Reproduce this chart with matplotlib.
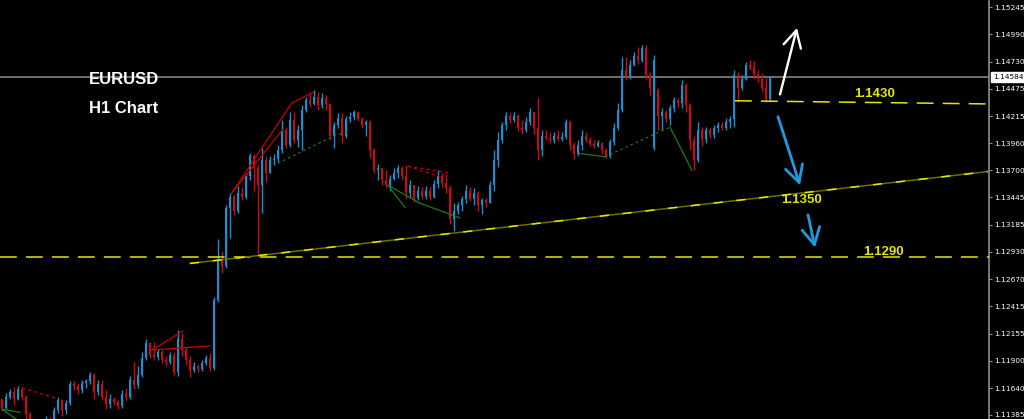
import matplotlib
matplotlib.use("Agg")
import matplotlib.pyplot as plt
import matplotlib.transforms as mtransforms

# EURUSD H1 candles (oldest -> newest)
opens = [
    1.1154,
    1.1145, 1.1156, 1.1160, 1.1154, 1.1163, 1.1156, 1.1139, 1.1129, 1.1126, 1.1132,
    1.1130, 1.1135, 1.1133, 1.1143, 1.1153, 1.1143, 1.1150, 1.1168, 1.1166, 1.1162,
    1.1169, 1.1171, 1.1176, 1.1160, 1.1168, 1.1156, 1.1149, 1.1154, 1.1151, 1.1147,
    1.1158, 1.1156, 1.1172, 1.1167, 1.1176, 1.1192, 1.1207, 1.1195, 1.1193, 1.1198,
    1.1191, 1.1189, 1.1195, 1.1179, 1.1210, 1.1200, 1.1191, 1.1181, 1.1185, 1.1182,
    1.1188, 1.1192, 1.1183, 1.1247, 1.1286, 1.1280, 1.1334, 1.1345, 1.1332, 1.1349,
    1.1345, 1.1365, 1.1384, 1.1372, 1.1356, 1.1380, 1.1368, 1.1380, 1.1381, 1.1389,
    1.1408, 1.1394, 1.1418, 1.1399, 1.1408, 1.1427, 1.1437, 1.1433, 1.1440, 1.1432,
    1.1439, 1.1433, 1.1403, 1.1413, 1.1420, 1.1403, 1.1419, 1.1421, 1.1425, 1.1419,
    1.1413, 1.1416, 1.1389, 1.1370, 1.1372, 1.1361, 1.1356, 1.1362, 1.1368, 1.1372,
    1.1365, 1.1349, 1.1356, 1.1344, 1.1351, 1.1346, 1.1351, 1.1345, 1.1357, 1.1365,
    1.1358, 1.1353, 1.1324, 1.1332, 1.1337, 1.1343, 1.1351, 1.1343, 1.1349, 1.1337,
    1.1342, 1.1339, 1.1356, 1.1380, 1.1399, 1.1413, 1.1422, 1.1418, 1.1422, 1.1410,
    1.1408, 1.1416, 1.1425, 1.1410, 1.1389, 1.1403, 1.1401, 1.1399, 1.1403, 1.1400,
    1.1402, 1.1416, 1.1394, 1.1386, 1.1394, 1.1403, 1.1399, 1.1395, 1.1393, 1.1396,
    1.1389, 1.1384, 1.1397, 1.1410, 1.1427, 1.1465, 1.1459, 1.1470, 1.1478, 1.1475,
    1.1486, 1.1460, 1.1391, 1.1446, 1.1422, 1.1425, 1.1419, 1.1429, 1.1437, 1.1434,
    1.1451, 1.1432, 1.1399, 1.1380, 1.1408, 1.1400, 1.1408, 1.1404, 1.1410, 1.1413,
    1.1410, 1.1416, 1.1419, 1.1460, 1.1448, 1.1457, 1.1470, 1.1468, 1.1461, 1.1457,
    1.1448, 1.1438,
]
closes = [
    1.1145, 1.1156, 1.1160, 1.1154, 1.1163, 1.1156, 1.1139, 1.1129, 1.1126, 1.1132,
    1.1130, 1.1135, 1.1133, 1.1143, 1.1153, 1.1143, 1.1150, 1.1168, 1.1166, 1.1162,
    1.1169, 1.1171, 1.1176, 1.1160, 1.1168, 1.1156, 1.1149, 1.1154, 1.1151, 1.1147,
    1.1158, 1.1156, 1.1172, 1.1167, 1.1176, 1.1192, 1.1207, 1.1195, 1.1193, 1.1198,
    1.1191, 1.1189, 1.1195, 1.1179, 1.1210, 1.1200, 1.1191, 1.1181, 1.1185, 1.1182,
    1.1188, 1.1192, 1.1183, 1.1247, 1.1286, 1.1280, 1.1334, 1.1345, 1.1332, 1.1349,
    1.1345, 1.1365, 1.1384, 1.1372, 1.1356, 1.1380, 1.1368, 1.1380, 1.1381, 1.1389,
    1.1408, 1.1394, 1.1418, 1.1399, 1.1408, 1.1427, 1.1437, 1.1433, 1.1440, 1.1432,
    1.1439, 1.1433, 1.1403, 1.1413, 1.1420, 1.1403, 1.1419, 1.1421, 1.1425, 1.1419,
    1.1413, 1.1416, 1.1389, 1.1370, 1.1372, 1.1361, 1.1356, 1.1362, 1.1368, 1.1372,
    1.1365, 1.1349, 1.1356, 1.1344, 1.1351, 1.1346, 1.1351, 1.1345, 1.1357, 1.1365,
    1.1358, 1.1353, 1.1324, 1.1332, 1.1337, 1.1343, 1.1351, 1.1343, 1.1349, 1.1337,
    1.1342, 1.1339, 1.1356, 1.1380, 1.1399, 1.1413, 1.1422, 1.1418, 1.1422, 1.1410,
    1.1408, 1.1416, 1.1425, 1.1410, 1.1389, 1.1403, 1.1401, 1.1399, 1.1403, 1.1400,
    1.1402, 1.1416, 1.1394, 1.1386, 1.1394, 1.1403, 1.1399, 1.1395, 1.1393, 1.1396,
    1.1389, 1.1384, 1.1397, 1.1410, 1.1427, 1.1465, 1.1459, 1.1470, 1.1478, 1.1475,
    1.1486, 1.1460, 1.1448, 1.1475, 1.1422, 1.1425, 1.1419, 1.1429, 1.1437, 1.1434,
    1.1451, 1.1432, 1.1399, 1.1380, 1.1408, 1.1400, 1.1408, 1.1404, 1.1410, 1.1413,
    1.1410, 1.1416, 1.1419, 1.1460, 1.1448, 1.1457, 1.1470, 1.1468, 1.1461, 1.1457,
    1.1448, 1.1438, 1.14584,
]
highs = [
    1.1154, 1.1159, 1.1163, 1.1165, 1.1166, 1.1165, 1.1157, 1.1141, 1.1134, 1.1135,
    1.1135, 1.1138, 1.1137, 1.1146, 1.1156, 1.1154, 1.1153, 1.1171, 1.1171, 1.1169,
    1.1172, 1.1173, 1.1179, 1.1178, 1.1172, 1.1172, 1.1162, 1.1158, 1.1156, 1.1153,
    1.1162, 1.1164, 1.1175, 1.1189, 1.1185, 1.1198, 1.1210, 1.1208, 1.1208, 1.1201,
    1.1200, 1.1194, 1.1198, 1.1198, 1.1219, 1.1216, 1.1203, 1.1194, 1.1189, 1.1187,
    1.1191, 1.1195, 1.1197, 1.1250, 1.1305, 1.1294, 1.1337, 1.1349, 1.1348, 1.1355,
    1.1354, 1.1368, 1.1387, 1.1386, 1.1375, 1.1391, 1.1384, 1.1384, 1.1386, 1.1394,
    1.1418, 1.1411, 1.1425, 1.1425, 1.1413, 1.1432, 1.1440, 1.1443, 1.1446, 1.1444,
    1.1443, 1.1441, 1.1434, 1.1416, 1.1424, 1.1424, 1.1422, 1.1425, 1.1427, 1.1426,
    1.1421, 1.1418, 1.1418, 1.1391, 1.1376, 1.1372, 1.1370, 1.1366, 1.1372, 1.1375,
    1.1374, 1.1375, 1.1361, 1.1356, 1.1355, 1.1354, 1.1355, 1.1354, 1.1361, 1.1370,
    1.1368, 1.1367, 1.1356, 1.1339, 1.1340, 1.1346, 1.1356, 1.1354, 1.1353, 1.1351,
    1.1344, 1.1344, 1.1360, 1.1389, 1.1406, 1.1416, 1.1425, 1.1424, 1.1425, 1.1423,
    1.1418, 1.1421, 1.1429, 1.1425, 1.1439, 1.1408, 1.1408, 1.1406, 1.1406, 1.1408,
    1.1406, 1.1419, 1.1418, 1.1397, 1.1399, 1.1408, 1.1406, 1.1402, 1.1399, 1.1399,
    1.1397, 1.1391, 1.1400, 1.1415, 1.1434, 1.1477, 1.1477, 1.1475, 1.1482, 1.1487,
    1.1489, 1.1489, 1.1463, 1.1479, 1.1448, 1.1429, 1.1427, 1.1432, 1.1440, 1.1439,
    1.1456, 1.1453, 1.1434, 1.1403, 1.1416, 1.1411, 1.1411, 1.1410, 1.1413, 1.1416,
    1.1416, 1.1420, 1.1422, 1.1465, 1.1463, 1.1460, 1.1473, 1.1475, 1.1474, 1.1465,
    1.1461, 1.1458, 1.1459,
]
lows = [
    1.1142, 1.1144, 1.1154, 1.1148, 1.1153, 1.1153, 1.1134, 1.1124, 1.1121, 1.1124,
    1.1126, 1.1127, 1.1129, 1.1130, 1.1140, 1.1138, 1.1139, 1.1148, 1.1162, 1.1158,
    1.1159, 1.1164, 1.1168, 1.1154, 1.1157, 1.1153, 1.1144, 1.1145, 1.1148, 1.1144,
    1.1145, 1.1153, 1.1154, 1.1163, 1.1164, 1.1174, 1.1191, 1.1192, 1.1191, 1.1191,
    1.1188, 1.1185, 1.1187, 1.1176, 1.1175, 1.1194, 1.1186, 1.1174, 1.1179, 1.1179,
    1.1180, 1.1186, 1.1180, 1.1181, 1.1245, 1.1273, 1.1278, 1.1306, 1.1328, 1.1330,
    1.1342, 1.1343, 1.1361, 1.1351, 1.1291, 1.1330, 1.1359, 1.1368, 1.1375, 1.1378,
    1.1387, 1.1391, 1.1392, 1.1396, 1.1392, 1.1389, 1.1425, 1.1430, 1.1432, 1.1427,
    1.1429, 1.1427, 1.1399, 1.1391, 1.1410, 1.1396, 1.1401, 1.1416, 1.1418, 1.1417,
    1.1410, 1.1403, 1.1382, 1.1368, 1.1361, 1.1356, 1.1353, 1.1351, 1.1361, 1.1363,
    1.1362, 1.1343, 1.1344, 1.1340, 1.1342, 1.1343, 1.1343, 1.1342, 1.1344, 1.1353,
    1.1354, 1.1349, 1.1319, 1.1313, 1.1329, 1.1332, 1.1339, 1.1341, 1.1337, 1.1332,
    1.1329, 1.1335, 1.1339, 1.1351, 1.1373, 1.1396, 1.1408, 1.1415, 1.1416, 1.1407,
    1.1405, 1.1406, 1.1413, 1.1405, 1.1380, 1.1384, 1.1399, 1.1396, 1.1396, 1.1398,
    1.1398, 1.1400, 1.1389, 1.1381, 1.1384, 1.1389, 1.1397, 1.1393, 1.1391, 1.1392,
    1.1386, 1.1382, 1.1382, 1.1394, 1.1408, 1.1425, 1.1456, 1.1457, 1.1469, 1.1471,
    1.1473, 1.1457, 1.1441, 1.1389, 1.1408, 1.1408, 1.1416, 1.1413, 1.1425, 1.1430,
    1.1429, 1.1425, 1.1389, 1.1370, 1.1378, 1.1393, 1.1396, 1.1401, 1.1401, 1.1406,
    1.1408, 1.1408, 1.1410, 1.1411, 1.1435, 1.1446, 1.1456, 1.1465, 1.1457, 1.1454,
    1.1444, 1.1435, 1.1436,
]

price_ticks = [1.15245, 1.14990, 1.14730, 1.14475, 1.14215, 1.13960, 1.13700, 1.13445,
               1.13185, 1.12930, 1.12670, 1.12415, 1.12155, 1.11900, 1.11640, 1.11385]
last_price = 1.14584

# drawn levels / trend lines: (bar index, price) pairs
support_1290 = 1.1288
trend_line = [(47, 1.1282), (246.5, 1.1369)]
line_1430 = [(183.25, 1.1436), (246.5, 1.1433)]
level_labels = [("1.1430", 218.25, 1.1442), ("1.1350", 199.75, 1.1342), ("1.1290", 220.25, 1.1293)]

# pattern (zigzag) lines drawn on the chart
red_solid = [[(37.5, 1.1200), (45.25, 1.1218)], [(37.5, 1.1200), (52, 1.1204)],
             [(57.5, 1.1349), (72.5, 1.1434)], [(57.5, 1.1349), (70.25, 1.1409)],
             [(72.5, 1.1434), (77.75, 1.1444)]]
red_dashed = [[(5, 1.1164), (14, 1.1154)], [(101.5, 1.1374), (111.5, 1.1368)],
              [(101.5, 1.1374), (109.5, 1.1364)]]
green_solid = [[(0, 1.1144), (4.5, 1.1141)], [(0, 1.1144), (3.75, 1.1134)],
               [(96.5, 1.1356), (100.75, 1.1335)], [(96.5, 1.1356), (104.5, 1.1339)],
               [(104.5, 1.1339), (114.5, 1.1325)], [(144.5, 1.1386), (150.75, 1.1383)],
               [(167, 1.1411), (172.5, 1.1370)]]
green_dotted = [[(69, 1.1377), (83.75, 1.1404), (86.25, 1.1406)],
                [(150.75, 1.1383), (167, 1.1411)]]

# arrows: (tail index, tail price, head index, head price)
arrow_up = (194.5, 1.1442, 198.75, 1.1505)
arrows_down = [(194, 1.1421, 199.5, 1.1356), (201.5, 1.1328, 203.25, 1.1297)]

UP = "#1b8fd2"
DOWN = "#cc0a10"
YELLOW = "#e6e600"

fig = plt.figure(figsize=(10.24, 4.19), dpi=100, facecolor="black")
ax = fig.add_axes([0, 0, 989 / 1024, 1])
ax.set_facecolor("black")

# candles
idx = list(range(len(closes)))
colors = [UP if c >= o else DOWN for o, c in zip(opens, closes)]
ax.vlines(idx, lows, highs, colors=colors, lw=1.0, zorder=3)
bottoms = [min(o, c) for o, c in zip(opens, closes)]
heights = [max(abs(c - o), 0.00006) for o, c in zip(opens, closes)]
ax.bar(idx, heights, bottom=bottoms, width=0.72, color=colors, lw=0, zorder=3)

# current price
ax.axhline(last_price, color="#8c8c8c", lw=1.1, zorder=2)

# levels
ax.axhline(support_1290, color=YELLOW, lw=1.1, dashes=(11, 6), zorder=4)
(x0, y0), (x1, y1) = trend_line
ax.plot([x0, x1], [y0, y1], color="#6e6e00", lw=1.1, zorder=4)
ax.plot([x0, x1], [y0, y1], color=YELLOW, lw=1.1, dashes=(6, 9), zorder=4)
(x0, y0), (x1, y1) = line_1430
ax.plot([x0, x1], [y0, y1], color=YELLOW, lw=1.1, dashes=(11, 6), zorder=4)
for txt, xi, yp in level_labels:
    ax.text(xi, yp, txt, color=YELLOW, fontsize=9.5, fontweight="bold",
            family="Liberation Sans", ha="center", va="center", zorder=6)

for seg in red_solid:
    ax.plot(*zip(*seg), color="#c80000", lw=0.9, zorder=4)
for seg in red_dashed:
    ax.plot(*zip(*seg), color="#c80000", lw=0.9, dashes=(2.5, 2.5), zorder=4)
for seg in green_solid:
    ax.plot(*zip(*seg), color="#1d7a1d", lw=0.9, zorder=4)
for seg in green_dotted:
    ax.plot(*zip(*seg), color="#1d7a1d", lw=0.9, dashes=(2, 2.5), zorder=4)

# arrows
xt, yt, xh, yh = arrow_up
ax.annotate("", xy=(xh, yh), xytext=(xt, yt), zorder=7,
            arrowprops=dict(arrowstyle="->,head_length=0.6,head_width=0.32",
                            color="white", lw=1.7, mutation_scale=20,
                            shrinkA=0, shrinkB=0))
for xt, yt, xh, yh in arrows_down:
    ax.annotate("", xy=(xh, yh), xytext=(xt, yt), zorder=7,
                arrowprops=dict(arrowstyle="->,head_length=0.6,head_width=0.32",
                                color="#1e9be0", lw=2.0, mutation_scale=20,
                                shrinkA=0, shrinkB=0))

# titles
ax.text(0.125, 0.81, "EURUSD", transform=ax.transAxes, color="white", fontsize=12,
        fontweight="bold", family="Liberation Sans", ha="center", va="center", zorder=6)
ax.text(0.125, 0.742, "H1 Chart", transform=ax.transAxes, color="white", fontsize=12,
        fontweight="bold", family="Liberation Sans", ha="center", va="center", zorder=6)

# axes
ax.set_xlim(-0.5, 246.75)
ax.set_ylim(1.11347, 1.15314)
ax.set_xticks([])
ax.yaxis.tick_right()
ax.set_yticks(price_ticks)
ax.set_yticklabels(["%.5f" % p for p in price_ticks])
ax.tick_params(axis="y", colors="#8c8c8c", labelcolor="white", labelsize=5.3,
               length=2.5, width=0.8, pad=1.5)
for side in ["top", "bottom", "left"]:
    ax.spines[side].set_visible(False)
ax.spines["right"].set_color("#8c8c8c")
ax.spines["right"].set_linewidth(1.2)

trans = mtransforms.blended_transform_factory(ax.transAxes, ax.transData)
ax.text(1.004, last_price, "%.5f" % last_price, transform=trans, color="black",
        fontsize=5.3, ha="left", va="center", clip_on=False, zorder=8,
        bbox=dict(boxstyle="square,pad=0.25", fc="white", ec="white"))

fig.savefig("out.png", dpi=100, facecolor="black")
